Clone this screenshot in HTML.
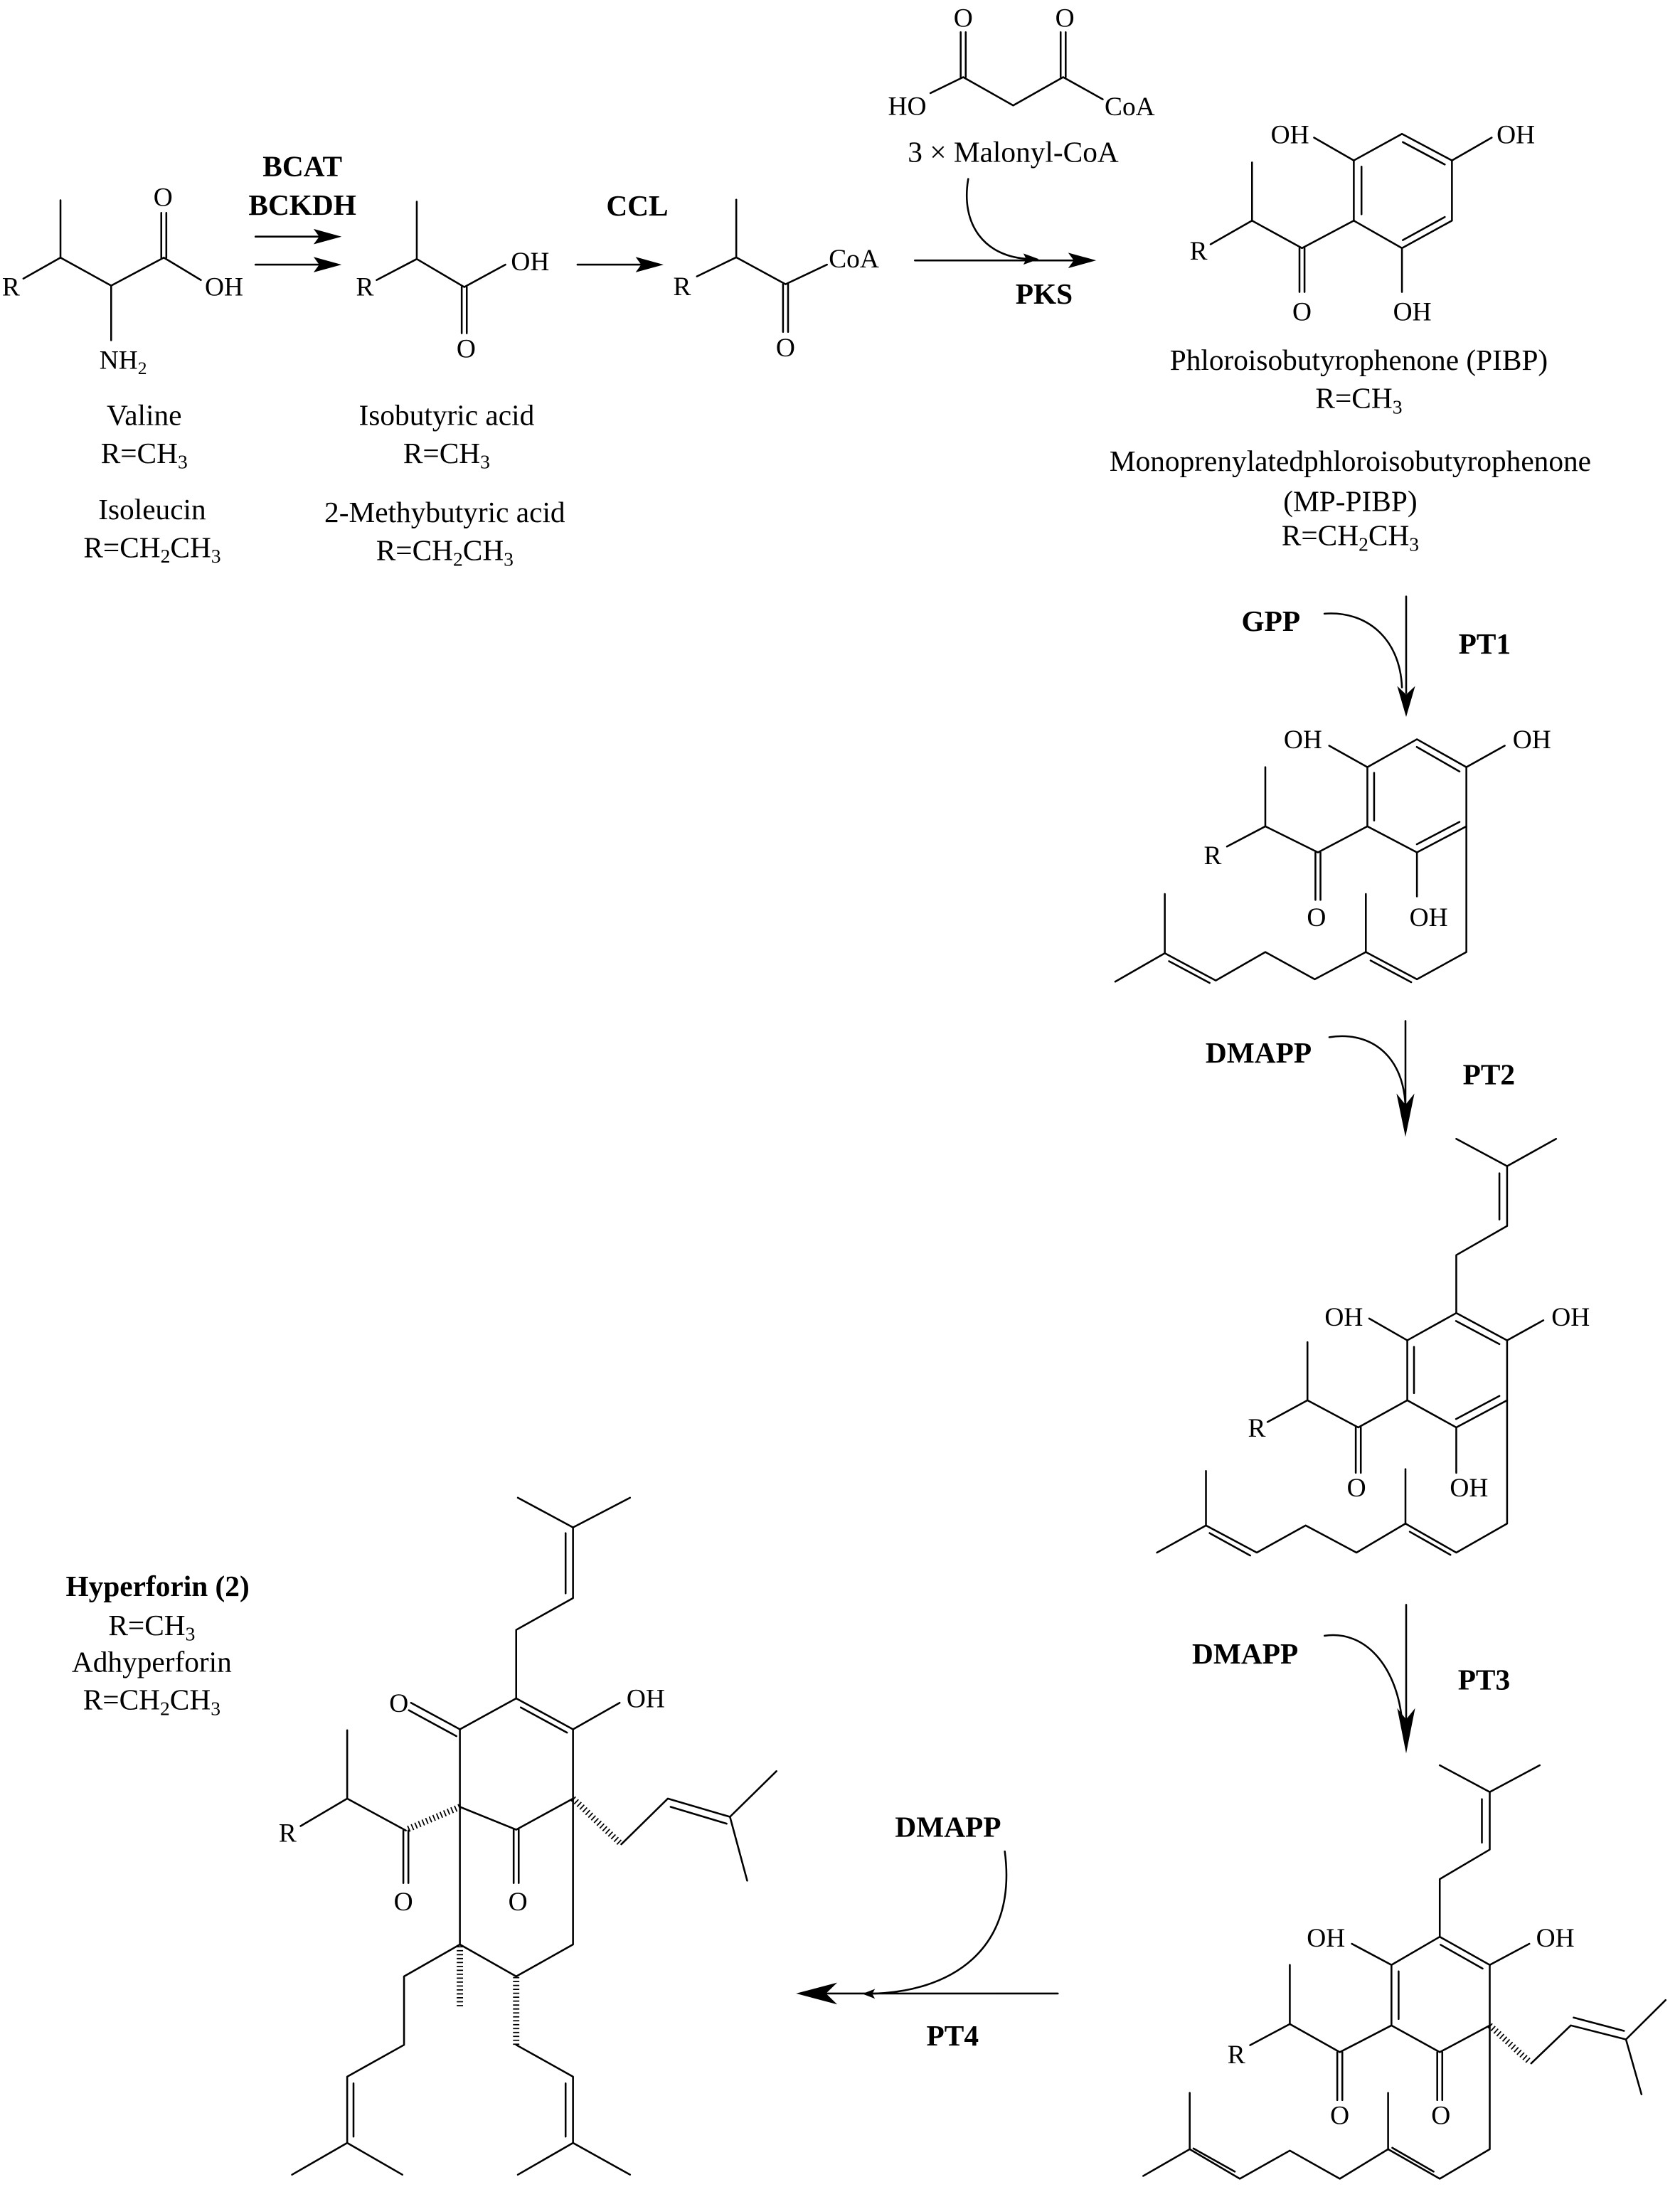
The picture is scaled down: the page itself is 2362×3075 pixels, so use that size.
<!DOCTYPE html>
<html><head><meta charset="utf-8"><style>
html,body{margin:0;padding:0;background:#fff;}
svg{display:block;}
text{font-family:"Liberation Serif",serif;fill:#000;}
.a{font-size:19px;}
.l{font-size:21px;}
.b{font-size:21px;font-weight:bold;}
</style></head><body>
<svg width="2362" height="3075" viewBox="0 0 1200 1562" preserveAspectRatio="none" xmlns="http://www.w3.org/2000/svg">
<rect width="1200" height="1562" fill="#fff"/>
<g stroke="#000" stroke-width="1.3" fill="none" stroke-linecap="round" stroke-linejoin="round">
<!-- Valine -->
<polyline points="16.7,199 43.2,184 79.4,204 117,184 143.5,200"/>
<line x1="43.2" y1="184" x2="43.2" y2="143"/>
<line x1="79.4" y1="204" x2="79.4" y2="243"/>
<line x1="115.2" y1="184" x2="115.2" y2="152"/><line x1="118.8" y1="184" x2="118.8" y2="152"/>
<!-- arrows 1 -->
<line x1="182.5" y1="169" x2="230" y2="169"/><line x1="182.5" y1="189" x2="230" y2="189"/>
<!-- Isobutyric -->
<polyline points="269,200 297.7,185 331.6,205 361,189"/>
<line x1="297.7" y1="185" x2="297.7" y2="144"/>
<line x1="329.8" y1="205" x2="329.8" y2="238"/><line x1="333.4" y1="205" x2="333.4" y2="238"/>
<line x1="412.5" y1="189" x2="460" y2="189"/>
<!-- CoA -->
<polyline points="497.8,197.4 525.9,183.8 561.1,203 590.7,189"/>
<line x1="525.9" y1="183.8" x2="525.9" y2="142.6"/>
<line x1="559.3" y1="203" x2="559.3" y2="237"/><line x1="562.9" y1="203" x2="562.9" y2="237"/>
<line x1="653.5" y1="186" x2="768" y2="186"/>
<!-- malonyl -->
<polyline points="664.6,66.5 688,55.1 723.7,75.3 759.4,55.1 787.7,70.9"/>
<line x1="686.2" y1="55" x2="686.2" y2="23"/><line x1="689.8" y1="55" x2="689.8" y2="23"/>
<line x1="757.6" y1="55" x2="757.6" y2="23"/><line x1="761.2" y1="55" x2="761.2" y2="23"/>
<path d="M691.6,127.8 C686,160 703,184 736,185"/>
<!-- PIBP -->
<polygon points="967,114.6 1001.4,95.6 1037.1,114.6 1037.1,157.6 1001.4,177.2 967,157.6"/>
<line x1="972.5" y1="119" x2="972.5" y2="153"/>
<line x1="1002" y1="101.5" x2="1032" y2="117.5"/>
<line x1="1032" y1="155" x2="1002" y2="171.5"/>
<line x1="967" y1="114.6" x2="938.6" y2="98.3"/>
<line x1="1037.1" y1="114.6" x2="1065.5" y2="98.3"/>
<line x1="1001.4" y1="177.2" x2="1001.4" y2="208.5"/>
<polyline points="967,157.6 930,177.2 894.3,157.6 864.7,174.5"/>
<line x1="894.3" y1="157.6" x2="894.3" y2="116"/>
<line x1="928.2" y1="177.2" x2="928.2" y2="208.5"/><line x1="931.8" y1="177.2" x2="931.8" y2="208.5"/>
<!-- GPP arrow -->
<line x1="1004.4" y1="426" x2="1004.4" y2="495"/>
<path d="M946,438.3 C975,436 1000,455 1001.4,491"/>
<!-- Structure 2 -->
<polygon points="976.7,547.9 1012.1,528 1047.4,547.9 1047.4,590.2 1012.1,608.8 976.7,590.2"/>
<line x1="981.5" y1="552" x2="981.5" y2="586"/>
<line x1="1012" y1="533.5" x2="1042.5" y2="551"/>
<line x1="1042.5" y1="587" x2="1012" y2="603"/>
<line x1="976.7" y1="547.9" x2="949.4" y2="532.6"/>
<line x1="1047.4" y1="547.9" x2="1074.8" y2="532.6"/>
<line x1="1012.1" y1="608.8" x2="1012.1" y2="640.2"/>
<polyline points="976.7,590.2 941.4,608.8 903.8,590.2 876.4,604.6"/>
<line x1="903.8" y1="590.2" x2="903.8" y2="547.9"/>
<line x1="939.6" y1="608.8" x2="939.6" y2="642.7"/><line x1="943.2" y1="608.8" x2="943.2" y2="642.7"/>
<polyline points="1047.4,590.2 1047.4,680 1012.1,699.4 975.6,680 939.1,699.4 903.8,680 868.4,700.3 832,680.8 796.6,701.1"/>
<line x1="975.6" y1="680" x2="975.6" y2="638.5"/>
<line x1="832" y1="680.8" x2="832" y2="638.5"/>
<line x1="979" y1="686" x2="1008" y2="701.5"/>
<line x1="835" y1="686.5" x2="864" y2="702"/>
<!-- DMAPP arrow 1 -->
<line x1="1003.9" y1="729.2" x2="1003.9" y2="795"/>
<path d="M949.5,740.8 C980,736 1003,755 1003.9,791"/>
<!-- Structure 3 -->
<polygon points="1005.2,957.3 1040.2,937.8 1076.5,957.3 1076.5,1000.1 1040.2,1019.5 1005.2,1000.1"/>
<line x1="1010" y1="962" x2="1010" y2="995"/>
<line x1="1040" y1="943.5" x2="1071" y2="960"/>
<line x1="1071" y1="997" x2="1040" y2="1013.5"/>
<polyline points="1040.2,937.8 1040.2,896.4 1076.5,875.6 1076.5,832.9"/>
<line x1="1071" y1="838" x2="1071" y2="871"/>
<line x1="1076.5" y1="832.9" x2="1040.2" y2="813.4"/>
<line x1="1076.5" y1="832.9" x2="1111.5" y2="813.4"/>
<line x1="1005.2" y1="957.3" x2="978" y2="941.7"/>
<line x1="1076.5" y1="957.3" x2="1102.4" y2="943"/>
<line x1="1040.2" y1="1019.5" x2="1040.2" y2="1051.9"/>
<polyline points="1005.2,1000.1 970.2,1019.5 933.9,1000.1 905.4,1015.6"/>
<line x1="933.9" y1="1000.1" x2="933.9" y2="958.6"/>
<line x1="968.4" y1="1019.5" x2="968.4" y2="1051.9"/><line x1="972" y1="1019.5" x2="972" y2="1051.9"/>
<polyline points="1076.5,1000.1 1076.5,1088.2 1040.2,1108.9 1003.9,1088.2 968.9,1108.9 932.6,1089.5 897.7,1108.9 861.4,1089.5 826.4,1108.9"/>
<line x1="1003.9" y1="1088.2" x2="1003.9" y2="1049.3"/>
<line x1="861.4" y1="1089.5" x2="861.4" y2="1050.6"/>
<line x1="1007" y1="1094" x2="1036" y2="1110.5"/>
<line x1="864" y1="1095" x2="893" y2="1111"/>
<!-- DMAPP arrow 2 -->
<line x1="1004.4" y1="1146.2" x2="1004.4" y2="1235"/>
<path d="M946.1,1168.3 C975,1164 997,1190 1001.2,1226.7"/>
<!-- Structure 4 -->
<polygon points="993.9,1403.4 1028.4,1383.3 1064.1,1403.4 1064.1,1446.6 1028.4,1465.7 993.9,1446.6"/>
<line x1="999" y1="1408" x2="999" y2="1442"/>
<line x1="1029" y1="1389" x2="1059" y2="1406"/>
<polyline points="1028.4,1383.3 1028.4,1342.1 1064.1,1321 1064.1,1279.9"/>
<line x1="1058.5" y1="1285" x2="1058.5" y2="1316"/>
<line x1="1064.1" y1="1279.9" x2="1028.4" y2="1260.8"/>
<line x1="1064.1" y1="1279.9" x2="1099.8" y2="1260.8"/>
<line x1="993.9" y1="1403.4" x2="965.6" y2="1388.3"/>
<line x1="1064.1" y1="1403.4" x2="1092.4" y2="1388.3"/>
<line x1="1026.6" y1="1465.7" x2="1026.6" y2="1499.9"/><line x1="1030.2" y1="1465.7" x2="1030.2" y2="1499.9"/>
<polyline points="993.9,1446.6 957,1465.7 921.3,1445.6 892.9,1460.7"/>
<line x1="921.3" y1="1445.6" x2="921.3" y2="1403.4"/>
<line x1="955.2" y1="1465.7" x2="955.2" y2="1499.9"/><line x1="958.8" y1="1465.7" x2="958.8" y2="1499.9"/>
<polyline points="1093.7,1473.7 1122,1446.6 1161.4,1456.6 1189.7,1428.5"/>
<line x1="1161.4" y1="1456.6" x2="1172.5" y2="1495.8"/>
<line x1="1124" y1="1441" x2="1160" y2="1450.5"/>
<polyline points="1064.1,1446.6 1064.1,1535 1028.4,1556.1 991.5,1535 957,1556.1 921.3,1536 885.6,1556.1 849.8,1535 816.6,1554.1"/>
<line x1="991.5" y1="1535" x2="991.5" y2="1494.8"/>
<line x1="849.8" y1="1535" x2="849.8" y2="1494.8"/>
<line x1="1024" y1="1551" x2="994.5" y2="1534"/>
<line x1="882" y1="1551" x2="852.5" y2="1534.5"/>
<!-- PT4 arrow -->
<line x1="755.6" y1="1423.8" x2="590" y2="1423.8"/>
<path d="M717.7,1322.3 C727,1392 680,1424 618,1424"/>
<!-- Hyperforin -->
<polyline points="328.5,1290.5 328.5,1235.1 368.7,1213 409.3,1235.1 409.3,1284.6"/>
<line x1="372" y1="1219.5" x2="405" y2="1237.5"/>
<line x1="328.5" y1="1235.1" x2="293.6" y2="1216.2"/>
<line x1="326" y1="1240" x2="292" y2="1221.5"/>
<line x1="409.3" y1="1235.1" x2="442.6" y2="1216.2"/>
<polyline points="368.7,1213 368.7,1164.1 409.3,1141.4 409.3,1090.9"/>
<line x1="404" y1="1095" x2="404" y2="1138"/>
<line x1="409.3" y1="1090.9" x2="369.9" y2="1069.7"/>
<line x1="409.3" y1="1090.9" x2="450" y2="1069.7"/>
<polyline points="328.5,1290.5 368.7,1306.8 409.3,1284.6"/>
<line x1="366.9" y1="1306.8" x2="366.9" y2="1344.9"/><line x1="370.5" y1="1306.8" x2="370.5" y2="1344.9"/>
<line x1="288.1" y1="1307.4" x2="288.1" y2="1344.9"/><line x1="291.7" y1="1307.4" x2="291.7" y2="1344.9"/>
<polyline points="289.9,1307.4 248,1284.6 214.7,1304.2"/>
<line x1="248" y1="1284.6" x2="248" y2="1235.8"/>
<polyline points="443.8,1317.2 477,1284.6 521.4,1297.6 554.6,1265"/>
<line x1="521.4" y1="1297.6" x2="533.7" y2="1343.2"/>
<line x1="479" y1="1290.5" x2="519" y2="1302.5"/>
<line x1="328.5" y1="1290.5" x2="328.5" y2="1388.8"/>
<polyline points="409.3,1284.6 409.3,1388.8 368.7,1411.6 328.5,1388.8 288.6,1411.6 288.6,1460.5 248,1483.2 248,1530.5"/>
<line x1="252.5" y1="1488" x2="252.5" y2="1526"/>
<line x1="248" y1="1530.5" x2="208.6" y2="1553.2"/><line x1="248" y1="1530.5" x2="287.4" y2="1553.2"/>
<polyline points="368.7,1460.5 409.3,1483.2 409.3,1530.5"/>
<line x1="404" y1="1488" x2="404" y2="1526"/>
<line x1="409.3" y1="1530.5" x2="369.9" y2="1553.2"/><line x1="409.3" y1="1530.5" x2="450" y2="1553.2"/>
</g>
<!-- hashed wedges -->
<g stroke="#000" stroke-width="4.5" stroke-dasharray="0.9 1.9" fill="none">
<line x1="328.5" y1="1290.5" x2="291" y2="1306.5"/>
<line x1="409.3" y1="1284.6" x2="443" y2="1316.5"/>
<line x1="328.5" y1="1390" x2="328.5" y2="1434.4"/>
<line x1="368.7" y1="1412" x2="368.7" y2="1460.5"/>
<line x1="1064.1" y1="1446.6" x2="1093" y2="1473"/>
</g>
<!-- arrowheads -->
<g fill="#000" stroke="none">
<polygon points="244,169 224,163.5 228,169 224,174.5"/>
<polygon points="244,189 224,183.5 228,189 224,194.5"/>
<polygon points="474,189 454,183.5 458,189 454,194.5"/>
<polygon points="783,186 763,180.5 767,186 763,191.5"/>
<polygon points="742,185 731,181 733,185 731,189"/>
<polygon points="1004.4,512 998,490 1004.4,496 1010.8,490"/>
<polygon points="1003.9,812 997.5,781 1003.9,789 1010.3,781"/>
<polygon points="1004.4,1252.3 998,1220 1004.4,1228 1010.8,1220"/>
<polygon points="568.6,1423.8 598,1416 590,1423.8 598,1431.6"/>
<polygon points="616,1424 625,1420.5 623,1424 625,1427.5"/>
</g>
<!-- text -->
<text class="a" x="7.8" y="211" text-anchor="middle">R</text>
<text class="a" x="116.5" y="147" text-anchor="middle">O</text>
<text class="a" x="146.3" y="211">OH</text>
<text class="a" x="71" y="263.3">NH<tspan font-size="13" dy="4">2</tspan></text>
<text class="l" x="103" y="303.5" text-anchor="middle">Valine</text>
<text class="l" x="103" y="330.6" text-anchor="middle">R=CH<tspan font-size="14" dy="4">3</tspan></text>
<text class="l" x="108.7" y="370.8" text-anchor="middle">Isoleucin</text>
<text class="l" x="108.7" y="397.9" text-anchor="middle">R=CH<tspan font-size="14" dy="4">2</tspan><tspan dy="-4">CH</tspan><tspan font-size="14" dy="4">3</tspan></text>
<text class="b" x="216" y="125.7" text-anchor="middle">BCAT</text>
<text class="b" x="216" y="153.4" text-anchor="middle">BCKDH</text>
<text class="a" x="260.6" y="211" text-anchor="middle">R</text>
<text class="a" x="365" y="193">OH</text>
<text class="a" x="333" y="255.3" text-anchor="middle">O</text>
<text class="l" x="319" y="303.5" text-anchor="middle">Isobutyric acid</text>
<text class="l" x="319" y="330.6" text-anchor="middle">R=CH<tspan font-size="14" dy="4">3</tspan></text>
<text class="l" x="317.7" y="372.8" text-anchor="middle">2-Methybutyric acid</text>
<text class="l" x="317.7" y="400" text-anchor="middle">R=CH<tspan font-size="14" dy="4">2</tspan><tspan dy="-4">CH</tspan><tspan font-size="14" dy="4">3</tspan></text>
<text class="b" x="455.2" y="154" text-anchor="middle">CCL</text>
<text class="a" x="487.2" y="210.9" text-anchor="middle">R</text>
<text class="a" x="561.1" y="254.6" text-anchor="middle">O</text>
<text class="a" x="592" y="191">CoA</text>
<text class="b" x="745.8" y="217" text-anchor="middle">PKS</text>
<text class="a" x="648" y="82" text-anchor="middle">HO</text>
<text class="a" x="688" y="19" text-anchor="middle">O</text>
<text class="a" x="760.6" y="19" text-anchor="middle">O</text>
<text class="a" x="789" y="82.3">CoA</text>
<text class="l" x="723.7" y="115.5" text-anchor="middle">3 × Malonyl-CoA</text>
<text class="a" x="921.4" y="102.4" text-anchor="middle">OH</text>
<text class="a" x="1082.7" y="102.4" text-anchor="middle">OH</text>
<text class="a" x="1008.8" y="228.9" text-anchor="middle">OH</text>
<text class="a" x="930" y="228.9" text-anchor="middle">O</text>
<text class="a" x="856.1" y="185.3" text-anchor="middle">R</text>
<text class="l" x="970.6" y="264.2" text-anchor="middle">Phloroisobutyrophenone (PIBP)</text>
<text class="l" x="970.6" y="291.4" text-anchor="middle">R=CH<tspan font-size="14" dy="4">3</tspan></text>
<text class="l" x="964.5" y="336.3" text-anchor="middle">Monoprenylatedphloroisobutyrophenone</text>
<text class="l" x="964.5" y="364.9" text-anchor="middle">(MP-PIBP)</text>
<text class="l" x="964.5" y="389.3" text-anchor="middle">R=CH<tspan font-size="14" dy="4">2</tspan><tspan dy="-4">CH</tspan><tspan font-size="14" dy="4">3</tspan></text>
<text class="b" x="907.8" y="450.5" text-anchor="middle">GPP</text>
<text class="b" x="1060.5" y="466.9" text-anchor="middle">PT1</text>
<text class="a" x="930.7" y="534.3" text-anchor="middle">OH</text>
<text class="a" x="1094.2" y="534.3" text-anchor="middle">OH</text>
<text class="a" x="1020.5" y="661.3" text-anchor="middle">OH</text>
<text class="a" x="940.3" y="661.3" text-anchor="middle">O</text>
<text class="a" x="866.2" y="617.3" text-anchor="middle">R</text>
<text class="b" x="899" y="759" text-anchor="middle">DMAPP</text>
<text class="b" x="1063.5" y="774.5" text-anchor="middle">PT2</text>
<text class="a" x="959.9" y="946.9" text-anchor="middle">OH</text>
<text class="a" x="1121.9" y="946.9" text-anchor="middle">OH</text>
<text class="a" x="1049.3" y="1068.7" text-anchor="middle">OH</text>
<text class="a" x="968.9" y="1068.7" text-anchor="middle">O</text>
<text class="a" x="897.7" y="1026" text-anchor="middle">R</text>
<text class="b" x="889.4" y="1188.2" text-anchor="middle">DMAPP</text>
<text class="b" x="1060" y="1206.8" text-anchor="middle">PT3</text>
<text class="a" x="947.1" y="1390.4" text-anchor="middle">OH</text>
<text class="a" x="1110.9" y="1390.4" text-anchor="middle">OH</text>
<text class="a" x="1029.2" y="1517" text-anchor="middle">O</text>
<text class="a" x="957" y="1517" text-anchor="middle">O</text>
<text class="a" x="883.1" y="1473.7" text-anchor="middle">R</text>
<text class="b" x="677.2" y="1311.8" text-anchor="middle">DMAPP</text>
<text class="b" x="680.4" y="1461" text-anchor="middle">PT4</text>
<text class="a" x="284.9" y="1222.8" text-anchor="middle">O</text>
<text class="a" x="447.5" y="1219.5">OH</text>
<text class="a" x="369.9" y="1364.4" text-anchor="middle">O</text>
<text class="a" x="288.1" y="1364.4" text-anchor="middle">O</text>
<text class="a" x="205.4" y="1315.5" text-anchor="middle">R</text>
<text class="b" x="112.6" y="1139.8" text-anchor="middle">Hyperforin (2)</text>
<text class="l" x="108.4" y="1167.7" text-anchor="middle">R=CH<tspan font-size="14" dy="4">3</tspan></text>
<text class="l" x="108.4" y="1194" text-anchor="middle">Adhyperforin</text>
<text class="l" x="108.4" y="1221" text-anchor="middle">R=CH<tspan font-size="14" dy="4">2</tspan><tspan dy="-4">CH</tspan><tspan font-size="14" dy="4">3</tspan></text>
</svg>
</body></html>
